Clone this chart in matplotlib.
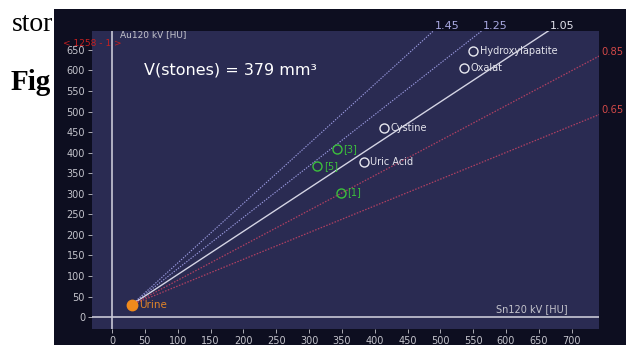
import numpy as np
import matplotlib
matplotlib.use("Agg")
import matplotlib.pyplot as plt

# ratio lines Au/Sn, fanning out from the urine point
ratios = [1.45, 1.25, 1.05, 0.85, 0.65]
ratio_labels = ["1.45", "1.25", "1.05", "0.85", "0.65"]
urine_x, urine_y = 30, 30

# reference stones (white circles)
stone_names = ["Hydroxylapatite", "Oxalat", "Cystine", "Uric Acid"]
stone_x = [550, 536, 414, 383]
stone_y = [647, 607, 461, 378]

# measured stones (green circles)
study_names = ["[3]", "[5]", "[1]"]
study_x = [342, 312, 348]
study_y = [409, 368, 303]

x_ticks = list(range(0, 701, 50))
y_ticks = list(range(0, 651, 50))

W, H = 626, 345
fig = plt.figure(figsize=(W / 100, H / 100), dpi=100)
fig.patch.set_facecolor("white")

# page text behind the screenshot (only the visible part)
fig.text(12 / W, 1 - 31 / H, "stor", family="Liberation Serif", fontsize=20,
         color="black", zorder=-1)
fig.text(11 / W, 1 - 90 / H, "Fig", family="Liberation Serif", fontsize=21,
         weight="bold", color="black", zorder=-1)

# dark screenshot frame
bg = fig.add_axes([54 / W, 0, 1 - 54 / W, 1 - 9 / H], zorder=0)
bg.set_facecolor("#0d0e20")
bg.set_xticks([])
bg.set_yticks([])
for s in bg.spines.values():
    s.set_visible(False)

ax = fig.add_axes([92 / W, 1 - 329 / H, (599 - 92) / W, (329 - 31) / H], zorder=1)
ax.set_facecolor("#2a2b52")
ax.set_xlim(-30.5, 741.6)
ax.set_ylim(-29, 696)
for s in ax.spines.values():
    s.set_visible(False)

tick_col = "#c4c4cc"
ax.set_xticks(x_ticks)
ax.set_yticks(y_ticks)
ax.tick_params(colors=tick_col, labelsize=7, length=3, width=0.6, pad=2)
for lab in ax.get_xticklabels() + ax.get_yticklabels():
    lab.set_family("DejaVu Sans")

ax.axvline(0, color="#c8c8d6", lw=1.2)
ax.axhline(0, color="#c8c8d6", lw=1.2)

x0, x1 = ax.get_xlim()
y0, y1 = ax.get_ylim()
styles = {
    1.45: dict(color="#9a9ae0", ls=(0, (1.2, 1.2)), lw=0.8, lc="#a8a8e0"),
    1.25: dict(color="#9a9ae0", ls=(0, (1.2, 1.2)), lw=0.8, lc="#a8a8e0"),
    1.05: dict(color="#d4d4e4", ls="-", lw=1.0, lc="#e0e0ea"),
    0.85: dict(color="#b04062", ls=(0, (1.2, 1.2)), lw=0.9, lc="#d04848"),
    0.65: dict(color="#b04062", ls=(0, (1.2, 1.2)), lw=0.9, lc="#d04848"),
}
for r, lab in zip(ratios, ratio_labels):
    st = styles[r]
    xs = np.array([urine_x, 2000])
    ys = urine_y + r * (xs - urine_x)
    ax.plot(xs, ys, color=st["color"], ls=st["ls"], lw=st["lw"], zorder=2)
    x_top = urine_x + (y1 - urine_y) / r
    if x_top <= x1:
        ax.annotate(lab, (x_top, y1), xytext=(1, 0), textcoords="offset points",
                    ha="left", va="bottom", fontsize=8, color=st["lc"],
                    family="DejaVu Sans", annotation_clip=False)
    else:
        y_right = urine_y + r * (x1 - urine_x)
        ax.annotate(lab, (x1, y_right), xytext=(2, 3), textcoords="offset points",
                    ha="left", va="center", fontsize=7.2, color=st["lc"],
                    family="DejaVu Sans", annotation_clip=False)

ax.plot(stone_x, stone_y, "o", mfc="none", mec="#e8e8f0", mew=1.0, ms=6.5, zorder=3)
for n, x, y in zip(stone_names, stone_x, stone_y):
    ax.annotate(n, (x, y), xytext=(5, 0), textcoords="offset points", ha="left",
                va="center", fontsize=7, color="#e4e4ec", family="DejaVu Sans")

ax.plot(study_x, study_y, "o", mfc="none", mec="#3cc03c", mew=1.0, ms=6.5, zorder=3)
for n, x, y in zip(study_names, study_x, study_y):
    ax.annotate(n, (x, y), xytext=(5, 0), textcoords="offset points", ha="left",
                va="center", fontsize=7, color="#3cc03c", family="DejaVu Sans")

ax.plot([urine_x], [urine_y], "o", color="#f08a1c", ms=7.5, zorder=4)
ax.annotate("Urine", (urine_x, urine_y), xytext=(5, 0), textcoords="offset points",
            ha="left", va="center", fontsize=7.5, color="#e08428", family="DejaVu Sans")

ax.text(120 / W, 1 - 35 / H, "Au120 kV [HU]", transform=fig.transFigure, fontsize=6.5,
        color="#c4c4cc", va="center", family="DejaVu Sans")
ax.text(568 / W, 1 - 309 / H, "Sn120 kV [HU]", transform=fig.transFigure, fontsize=7,
        color="#c4c4cc", ha="right", va="center", family="DejaVu Sans")
ax.text(144 / W, 1 - 70 / H, "V(stones) = 379 mm³", transform=fig.transFigure,
        fontsize=11.5, color="white", va="center", family="DejaVu Sans")
fig.text(63 / W, 1 - 44 / H, "< 1258 - 1 >", fontsize=6.5, color="#c42020",
         va="center", family="DejaVu Sans", zorder=5)

fig.savefig("out.png", dpi=100)
